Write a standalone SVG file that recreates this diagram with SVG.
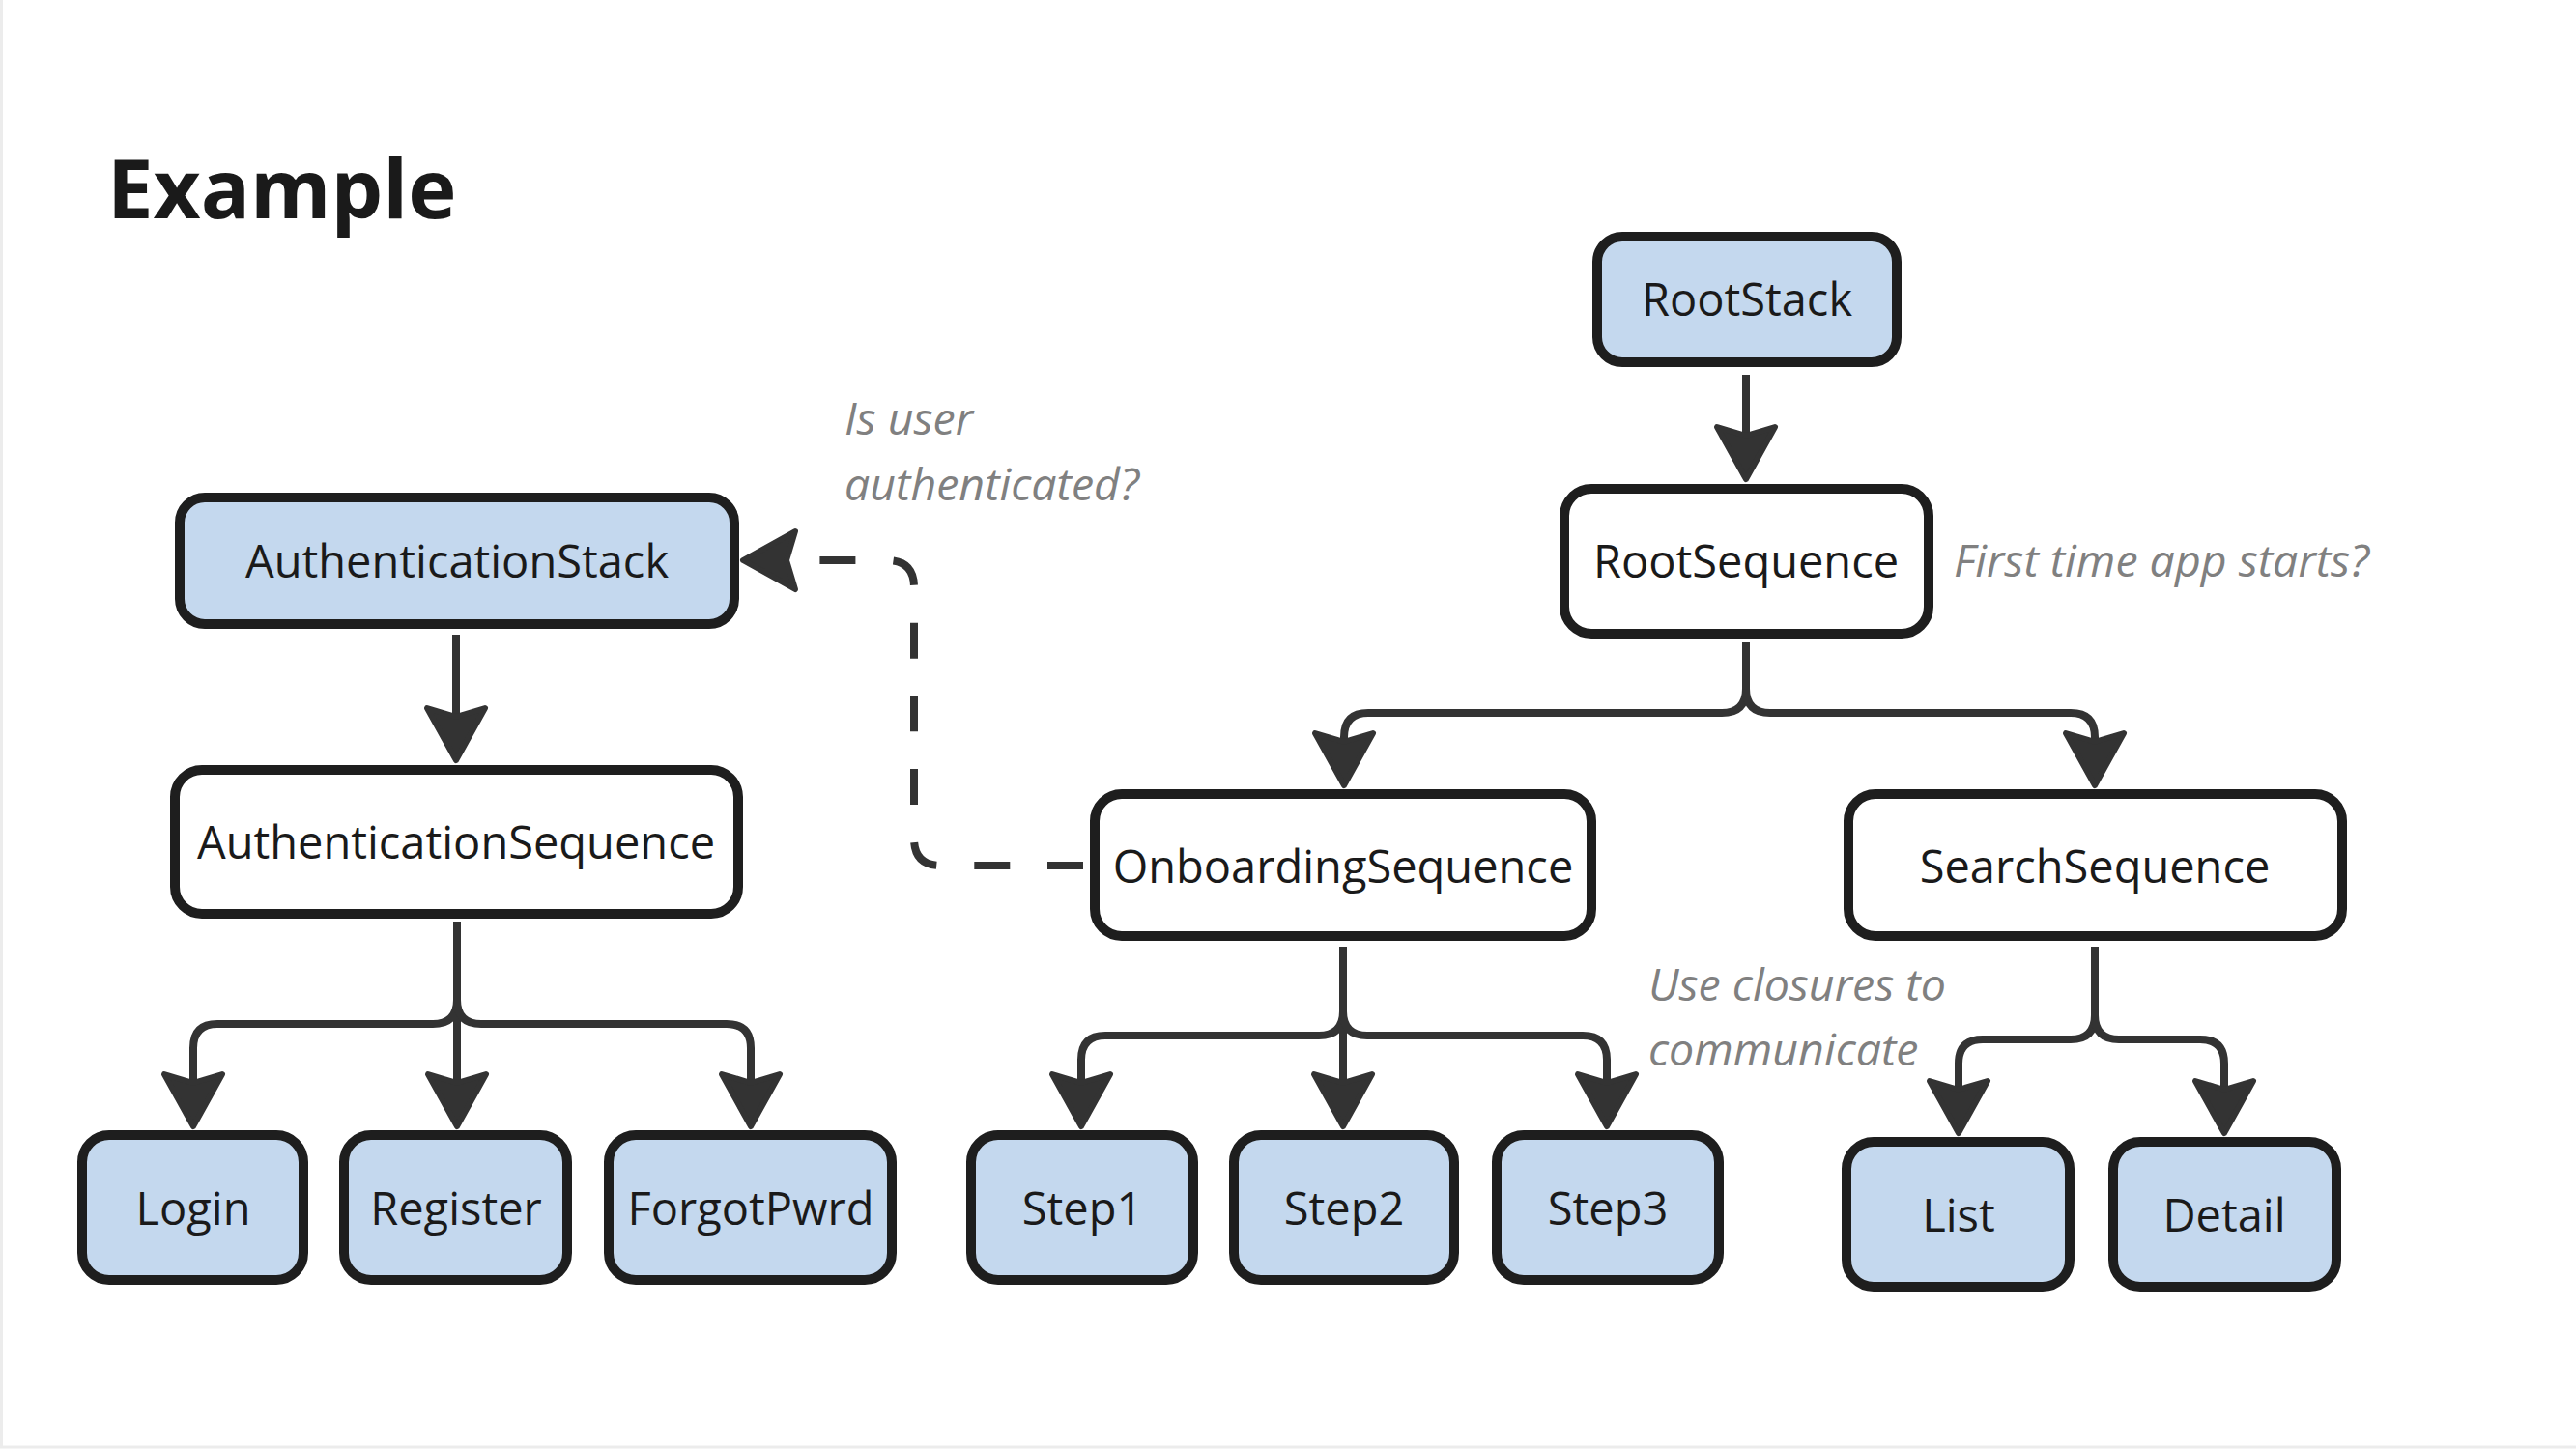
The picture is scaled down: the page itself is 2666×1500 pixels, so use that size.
<svg xmlns="http://www.w3.org/2000/svg" width="2666" height="1500" viewBox="0 0 2666 1500">
<style>
.bg{fill:#ffffff}
.frame{fill:none;stroke:#ececec;stroke-width:3}
.box{stroke:#1e1e1e;stroke-width:10}
.blue{fill:#c4d8ee}
.white{fill:#ffffff}
.lbl{font-family:"Open Sans","Noto Sans","Liberation Sans",sans-serif;font-size:47px;fill:#1a1a1a;text-anchor:middle}
.note{font-family:"Open Sans","Noto Sans","Liberation Sans",sans-serif;font-style:italic;font-size:46.5px;fill:#808080}
.title{font-family:"Open Sans","Noto Sans","Liberation Sans",sans-serif;font-weight:bold;font-size:85px;fill:#1a1a1a}
.conn{fill:none;stroke:#333333;stroke-width:8}
.dash{stroke-dasharray:37 38.7;stroke-dashoffset:68.7}
</style>
<defs>
<marker id="arr" markerUnits="userSpaceOnUse" markerWidth="120" markerHeight="120" viewBox="-60 -60 120 120" refX="0" refY="0" orient="auto" overflow="visible">
<path d="M46,0 L-8,-30 L1,0 L-8,30 Z" fill="#333333" stroke="#333333" stroke-width="6" stroke-linejoin="round"/>
</marker>
</defs>
<rect class="bg" x="0" y="0" width="2666" height="1500"/>
<rect class="frame" x="1.5" y="-10" width="2700" height="1508"/>
<text class="title" x="111" y="226">Example</text>

<g id="connectors">
<path class="conn" d="M1807,388 V450" marker-end="url(#arr)"/>
<path class="conn" d="M472,657 V741" marker-end="url(#arr)"/>
<path class="conn" d="M1807,665 V713 Q1807,738 1782,738 H1416 Q1391,738 1391,763 V767" marker-end="url(#arr)"/>
<path class="conn" d="M1807,665 V713 Q1807,738 1832,738 H2143 Q2168,738 2168,763 V767" marker-end="url(#arr)"/>
<path class="conn" d="M473,954 V1035 Q473,1060 448,1060 H225 Q200,1060 200,1085 V1120" marker-end="url(#arr)"/>
<path class="conn" d="M473,954 V1120" marker-end="url(#arr)"/>
<path class="conn" d="M473,954 V1035 Q473,1060 498,1060 H752 Q777,1060 777,1085 V1120" marker-end="url(#arr)"/>
<path class="conn" d="M1390,980 V1047 Q1390,1072 1365,1072 H1144 Q1119,1072 1119,1097 V1120" marker-end="url(#arr)"/>
<path class="conn" d="M1390,980 V1120" marker-end="url(#arr)"/>
<path class="conn" d="M1390,980 V1047 Q1390,1072 1415,1072 H1638 Q1663,1072 1663,1097 V1120" marker-end="url(#arr)"/>
<path class="conn" d="M2168,980 V1051 Q2168,1076 2143,1076 H2052 Q2027,1076 2027,1101 V1127" marker-end="url(#arr)"/>
<path class="conn" d="M2168,980 V1051 Q2168,1076 2193,1076 H2277 Q2302,1076 2302,1101 V1127" marker-end="url(#arr)"/>
<path class="conn dash" d="M1128,896 H974 Q946,896 946,868 V608 Q946,580 918,580 H815" marker-end="url(#arr)"/>
</g>

<g id="root-stack"><rect class="box blue" x="1653" y="245" width="310" height="130" rx="26"/><text class="lbl" x="1808" y="327">RootStack</text></g>
<g id="root-sequence"><rect class="box white" x="1619" y="506" width="377" height="150" rx="28"/><text class="lbl" x="1807" y="598">RootSequence</text></g>
<g id="auth-stack"><rect class="box blue" x="186" y="515" width="574" height="131" rx="26"/><text class="lbl" x="473" y="598">AuthenticationStack</text></g>
<g id="auth-sequence"><rect class="box white" x="181" y="797" width="583" height="149" rx="28"/><text class="lbl" x="472" y="889">AuthenticationSequence</text></g>
<g id="onboarding-sequence"><rect class="box white" x="1133" y="822" width="514" height="147" rx="28"/><text class="lbl" x="1390" y="914">OnboardingSequence</text></g>
<g id="search-sequence"><rect class="box white" x="1913" y="822" width="511" height="147" rx="28"/><text class="lbl" x="2168" y="914">SearchSequence</text></g>
<g id="login"><rect class="box blue" x="85" y="1175" width="229" height="150" rx="28"/><text class="lbl" x="200" y="1268">Login</text></g>
<g id="register"><rect class="box blue" x="356" y="1175" width="231" height="150" rx="28"/><text class="lbl" x="472" y="1268">Register</text></g>
<g id="forgot-pwrd"><rect class="box blue" x="630" y="1175" width="293" height="150" rx="28"/><text class="lbl" x="777" y="1268">ForgotPwrd</text></g>
<g id="step1"><rect class="box blue" x="1005" y="1175" width="230" height="150" rx="28"/><text class="lbl" x="1120" y="1268">Step1</text></g>
<g id="step2"><rect class="box blue" x="1277" y="1175" width="228" height="150" rx="28"/><text class="lbl" x="1391" y="1268">Step2</text></g>
<g id="step3"><rect class="box blue" x="1549" y="1175" width="230" height="150" rx="28"/><text class="lbl" x="1664" y="1268">Step3</text></g>
<g id="list"><rect class="box blue" x="1911" y="1182" width="231" height="150" rx="28"/><text class="lbl" x="2027" y="1275">List</text></g>
<g id="detail"><rect class="box blue" x="2187" y="1182" width="231" height="150" rx="28"/><text class="lbl" x="2302" y="1275">Detail</text></g>

<g id="notes">
<text class="note" x="874" y="450">Is user</text>
<text class="note" x="874" y="518">authenticated?</text>
<text class="note" x="2022" y="597">First time app starts?</text>
<text class="note" x="1706" y="1036">Use closures to</text>
<text class="note" x="1706" y="1103">communicate</text>
</g>
</svg>
